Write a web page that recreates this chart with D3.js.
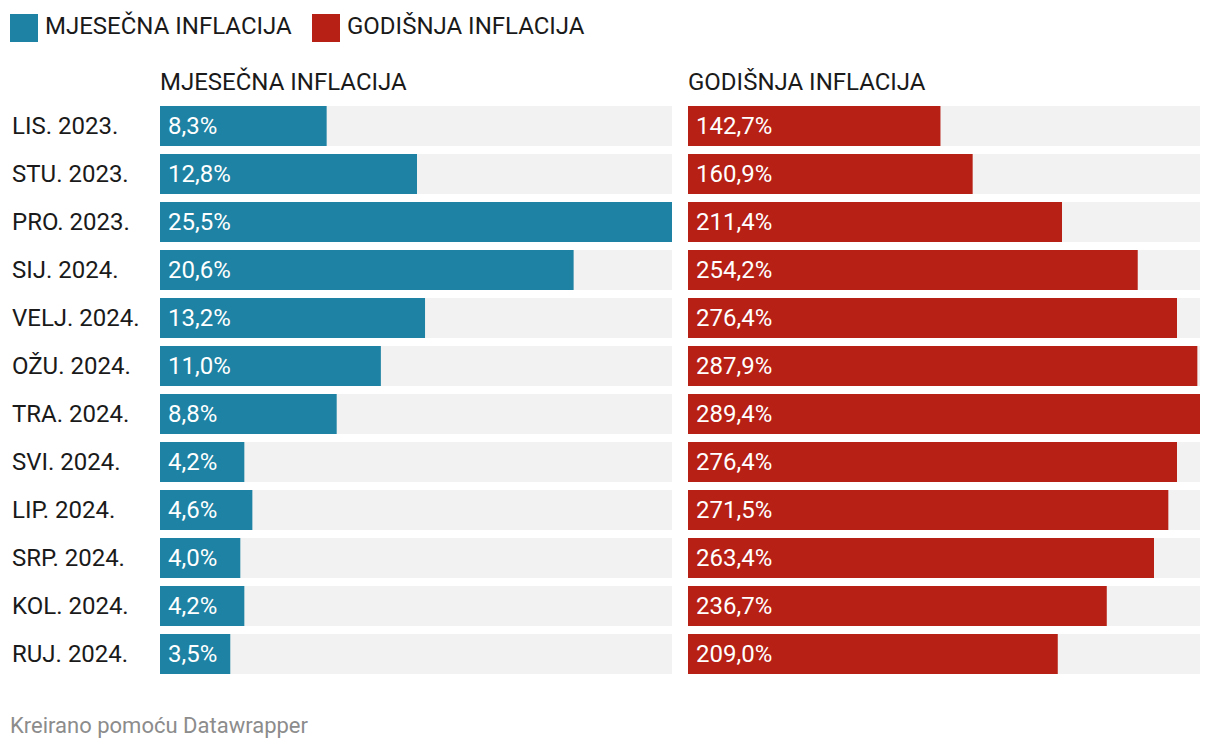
<!DOCTYPE html>
<html><head><meta charset="utf-8">
<script src="https://cdn.jsdelivr.net/npm/d3@7"></script>
<style>body{margin:0;background:#fff;font-family:Roboto,sans-serif;}</style>
</head><body>
<svg id="c" width="1220" height="752"></svg>
<script>
const categories = ["LIS. 2023.","STU. 2023.","PRO. 2023.","SIJ. 2024.","VELJ. 2024.","OŽU. 2024.","TRA. 2024.","SVI. 2024.","LIP. 2024.","SRP. 2024.","KOL. 2024.","RUJ. 2024."];
const monthly = [8.3,12.8,25.5,20.6,13.2,11.0,8.8,4.2,4.6,4.0,4.2,3.5];
const annual = [142.7,160.9,211.4,254.2,276.4,287.9,289.4,276.4,271.5,263.4,236.7,209.0];
const seriesNames = ["MJESEČNA INFLACIJA","GODIŠNJA INFLACIJA"];
const colors = ["#1d82a3","#b72015"];

const svg = d3.select("#c");
const fmt = v => v.toFixed(1).replace(".", ",") + "%";

// legend
const leg = svg.append("g");
let lx = 10;
seriesNames.forEach((n,i)=>{
  leg.append("rect").attr("x",lx).attr("y",14).attr("width",28).attr("height",28).attr("fill",colors[i]);
  const t = leg.append("text").attr("x",lx+35).attr("y",34).attr("font-size",24).attr("fill","#1a1a1a").text(n);
  lx = i === 0 ? 312 : lx;
});

const yb = d3.scaleBand().domain(categories).range([106, 106+48*12-8]).paddingInner(8/48);

svg.append("g").selectAll("text").data(categories).join("text")
  .attr("x",12).attr("y",d=>yb(d)+yb.bandwidth()/2+8).attr("font-size",24).attr("fill","#1a1a1a").text(d=>d);

const panels = [
  {x0:160, data:monthly, max:d3.max(monthly), color:colors[0], title:seriesNames[0]},
  {x0:688, data:annual, max:d3.max(annual), color:colors[1], title:seriesNames[1]}
];
panels.forEach(p=>{
  const x = d3.scaleLinear().domain([0,p.max]).range([p.x0, p.x0+512]);
  const g = svg.append("g");
  g.append("text").attr("x",p.x0).attr("y",90).attr("font-size",24).attr("fill","#1a1a1a").text(p.title);
  g.selectAll("rect.bg").data(categories).join("rect").attr("class","bg")
    .attr("x",x(0)).attr("y",d=>yb(d)).attr("width",x(p.max)-x(0)).attr("height",yb.bandwidth()).attr("fill","#f2f2f2");
  g.selectAll("rect.bar").data(p.data).join("rect").attr("class","bar")
    .attr("x",x(0)).attr("y",(d,i)=>yb(categories[i])).attr("width",d=>x(d)-x(0)).attr("height",yb.bandwidth()).attr("fill",p.color);
  g.selectAll("text.v").data(p.data).join("text").attr("class","v")
    .attr("x",x(0)+8).attr("y",(d,i)=>yb(categories[i])+yb.bandwidth()/2+8).attr("font-size",24).attr("fill","#fff").text(fmt);
});

svg.append("text").attr("x",10).attr("y",733).attr("font-size",22).attr("fill","#8c8c8c").text("Kreirano pomoću Datawrapper");
</script>
</body></html>
